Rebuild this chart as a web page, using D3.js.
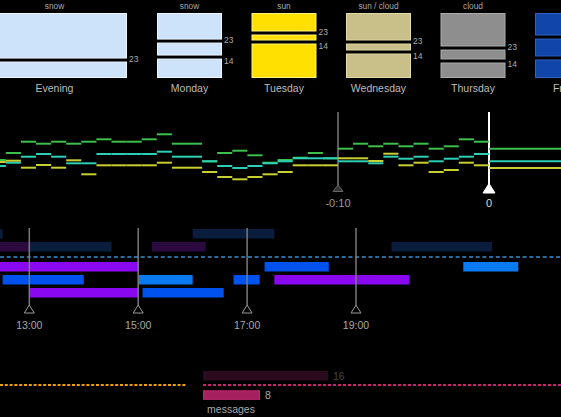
<!DOCTYPE html>
<html><head><meta charset="utf-8">
<script src="https://cdn.jsdelivr.net/npm/d3@7"></script>
<style>
html,body{margin:0;padding:0;background:#000;overflow:hidden}
svg{display:block}
text{font-family:"Liberation Sans",Arial,sans-serif}
</style>
</head><body>
<svg id="c" width="561" height="417"></svg>
<script>
// ---------- DATA ----------
const days = ["Evening","Monday","Tuesday","Wednesday","Thursday","Friday"];
const conditions = ["snow","snow","sun","sun / cloud","cloud",""];
const dayScaleMax = [38.7, 38.8, 43, 49.1, 47.3, 33.3];
const dayScaleMin = [17, 2.2, -22, -9.4, 2.2, 5.4];
const thresholds = [23, 14];

const minutes = [-33,-32,-31,-30,-29,-28,-27,-26,-25,-24,-23,-22,-21,-20,-19,-18,-17,-16,-15,-14,-13,-12,-11,-10,-9,-8,-7,-6,-5,-4,-3,-2,-1,0];
const greenSeries = [30,37,48.3,46.3,48.3,46.3,48.3,50.7,48.3,48.3,50.7,55.7,46.3,46.3,28.7,37,39.3,34.7,27.3,30,32.3,37,31.7,41.3,46.3,43.7,46.3,43.7,46.3,41.3,43.7,50.7,48.3,41.3];
const cyanSeries = [24,27.3,33.3,36,33.3,26.7,26.7,36,36,36,36,38.3,33.3,33.3,28.7,24,22,24,26.7,28.7,31.7,31.7,31.7,28.7,28.7,26.7,33.3,31.3,33.3,28.7,31.3,33.3,36,28.7];
const yellowSeries = [28,29.3,22.3,25,22.3,29.7,15.7,24.7,24.7,24.7,24.7,27.3,22.3,22.3,18,13,10.7,13,15.7,18,24.7,24.7,24.7,31.7,31.7,29,36.3,24.7,27.3,18,20,27.3,24.7,22];
const minuteMarks = [-10, 0];
const minuteLabels = ["-0:10", "0"];

const barRow   = [0,0, 1,1,1,1, 2,2,2, 3,3,3,3, 4,4];
const barStart = [12.0,16.0, 12.0,13.0,15.25,19.65, 12.0,17.32,20.97, 12.51,15.0,16.75,17.5, 13.0,15.08];
const barEnd   = [12.51,17.5, 13.0,14.51,16.24,21.5, 15.0,18.5,21.98, 14.0,16.0,17.23,19.98, 15.0,16.57];
const barKind  = ["navy","navy", "plum","navy","plum","navy", "violet","blue","sky", "blue","sky","blue","violet", "violet","blue"];
const hourTicks = [13, 15, 17, 19];
const hourLabels = ["13:00","15:00","17:00","19:00"];

const msgValues = [16, 8];
const msgLabel = "messages";

// ---------- STYLES ----------
const panelFill   = ["#cde3fa","#cde3fa","#ffe000","#c8c088","#8e8e8e","#1245a8"];
const panelStroke = ["#eef6ff","#eef6ff","#fff27a","#e0d9a8","#ababab","#2f62c4"];
const seriesColor = {green:"#3dbf4c", cyan:"#2cd0b6", yellow:"#c9cf30"};
const barColor = {navy:"#0b1d3d", plum:"#2b0a3f", violet:"#8a08f0", blue:"#0052ee", sky:"#0a7af2"};

const W = 561;
const svg = d3.select("#c");
svg.append("rect").attr("width",W).attr("height",417).attr("fill","#000");

// ---------- WEATHER PANELS ----------
const panelTop = 13, panelBottom = 78;
const panelX = i => i === 0 ? -18 : 157 + (i-1)*94.5;
const panelW = i => i === 0 ? 145 : 65;

days.forEach((d, i) => {
  const g = svg.append("g");
  const x0 = panelX(i), w = panelW(i);
  const ys = d3.scaleLinear().domain([dayScaleMin[i], dayScaleMax[i]]).range([panelBottom, panelTop]);
  const cuts = thresholds.filter(t => t > dayScaleMin[i] && t < dayScaleMax[i]);
  const edges = [panelTop, ...cuts.map(t => ys(t)), panelBottom];
  for (let k = 0; k < edges.length-1; k++) {
    const a = edges[k] + (k === 0 ? 0 : 1.5);
    const b = edges[k+1] - (k === edges.length-2 ? 0 : 1.5);
    g.append("rect").attr("x", x0+0.5).attr("y", a+0.5).attr("width", w-1).attr("height", Math.max(0,b-a-1))
      .attr("fill", panelFill[i]).attr("stroke", panelStroke[i]).attr("stroke-width", 1);
  }
  if (x0 + w + 12 < W) {
    cuts.forEach(t => {
      const yy = ys(t);
      g.append("text").attr("x", x0 + w + 2).attr("y", t === 23 ? yy + 1.5 : yy + 6.5)
        .attr("font-size", 8.5).attr("fill", "#aaa").text(t);
    });
  }
  if (conditions[i]) {
    g.append("text").attr("x", x0 + w/2).attr("y", 9).attr("text-anchor","middle")
      .attr("font-size", 8.3).attr("fill", "#aaa").text(conditions[i]);
  }
  g.append("text").attr("x", x0 + w/2).attr("y", 92).attr("text-anchor","middle")
    .attr("font-size", 10.5).attr("fill", "#bdbdbd").text(d);
});

// ---------- STEP SERIES ----------
const xm = d3.scaleLinear().domain([-10, 0]).range([338, 489]);
const yv = d3.scaleLinear().domain([0, 60]).range([190, 130]);

minuteMarks.forEach((m, i) => {
  const x = xm(m);
  const now = m === 0;
  svg.append("line").attr("x1", x).attr("x2", x).attr("y1", 112).attr("y2", now ? 188 : 186)
    .attr("stroke", now ? "#fff" : "#5a5a5a").attr("stroke-width", 2);
  const tri = now ? [[x,183.5],[x-6,193],[x+6,193]] : [[x,185],[x-5,191.5],[x+5,191.5]];
  svg.append("path").attr("d", d3.line()(tri) + "Z")
    .attr("fill", now ? "#fff" : "#333").attr("stroke", now ? "#fff" : "#666").attr("stroke-width", 1);
  svg.append("text").attr("x", x).attr("y", 207).attr("text-anchor","middle")
    .attr("font-size", 11).attr("fill", now ? "#ddd" : "#9a9a9a").text(minuteLabels[i]);
});

[["green", greenSeries],["cyan", cyanSeries],["yellow", yellowSeries]].forEach(([name, vals]) => {
  svg.append("g").selectAll("line").data(vals).join("line")
    .attr("x1", (v, j) => xm(minutes[j]))
    .attr("x2", (v, j) => j === vals.length-1 ? W : xm(minutes[j] + 1))
    .attr("y1", v => yv(v)).attr("y2", v => yv(v))
    .attr("stroke", seriesColor[name]).attr("stroke-width", 2);
});

// ---------- TIMELINE ----------
const xh = d3.scaleLinear().domain([13, 19]).range([29.3, 356]);
const rowY = r => 229 + r*13 + (r >= 2 ? 7 : 0);

svg.append("line").attr("x1", 0).attr("x2", W).attr("y1", 257).attr("y2", 257)
  .attr("stroke", "#2d6a9c").attr("stroke-width", 2).attr("stroke-dasharray", "4,2.7");

svg.append("g").selectAll("rect").data(barRow).join("rect")
  .attr("x", (r, j) => xh(barStart[j]))
  .attr("width", (r, j) => xh(barEnd[j]) - xh(barStart[j]))
  .attr("y", r => rowY(r)).attr("height", 9.5)
  .attr("fill", (r, j) => barColor[barKind[j]]);

hourTicks.forEach((h, i) => {
  const x = xh(h);
  svg.append("line").attr("x1", x).attr("x2", x).attr("y1", 228).attr("y2", 305)
    .attr("stroke", "#7a7a7a").attr("stroke-width", 1.5);
  svg.append("path").attr("d", d3.line()([[x,305],[x-5,313],[x+5,313]]) + "Z")
    .attr("fill", "#000").attr("stroke", "#999").attr("stroke-width", 1);
  svg.append("text").attr("x", x).attr("y", 328.5).attr("text-anchor","middle")
    .attr("font-size", 10.5).attr("fill", "#a8a8a8").text(hourLabels[i]);
});

// ---------- MESSAGES ----------
const xb = d3.scaleLinear().domain([1.3, 16]).range([0, 125]);
const bx0 = 203;
svg.append("line").attr("x1", 0).attr("x2", 186).attr("y1", 385).attr("y2", 385)
  .attr("stroke", "#f0a000").attr("stroke-width", 2).attr("stroke-dasharray", "3,1.8");
svg.append("line").attr("x1", bx0).attr("x2", W).attr("y1", 385).attr("y2", 385)
  .attr("stroke", "#c8246f").attr("stroke-width", 2).attr("stroke-dasharray", "3,2");

const msgY = [371, 390.3];
const msgFill = ["#2a0a1c", "#a6205f"];
const msgStroke = ["#2a0a1c", "#c22a70"];
const msgText = ["#444", "#aaa"];
msgValues.forEach((v, i) => {
  svg.append("rect").attr("x", bx0 + 0.5).attr("y", msgY[i] + 0.5).attr("width", xb(v) - 1).attr("height", 8.5)
    .attr("fill", msgFill[i]).attr("stroke", msgStroke[i]).attr("stroke-width", 1);
  svg.append("text").attr("x", bx0 + xb(v) + 5).attr("y", msgY[i] + 8.5)
    .attr("font-size", 10.5).attr("fill", msgText[i]).text(v);
});
svg.append("text").attr("x", bx0 + 28).attr("y", 413).attr("text-anchor","middle")
  .attr("font-size", 10.5).attr("fill", "#aaa").text(msgLabel);
</script>
</body></html>
